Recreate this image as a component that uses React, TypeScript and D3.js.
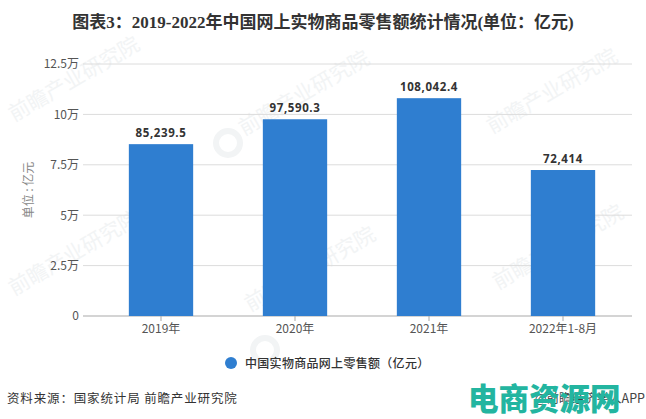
import React, { useRef, useEffect } from 'react';
import * as d3 from 'd3';

const categories = ['2019年', '2020年', '2021年', '2022年1-8月'];
const salesValues = [85239.5, 97590.3, 108042.4, 72414];
const valueLabels = ['85,239.5', '97,590.3', '108,042.4', '72,414'];
const yTicks = [0, 25000, 50000, 75000, 100000, 125000];
const yTickLabels = ['0', '2.5万', '5万', '7.5万', '10万', '12.5万'];
const watermarkSpots = [
  [14, 122], [244, 136], [492, 134],
  [14, 296], [250, 312], [498, 290],
];
const logoSpots = [[228, 143], [265, 350]];

const SANS = '"Noto Sans CJK SC", "Noto Sans", sans-serif';

const App = () => {
  const chartRef = useRef(null);

  useEffect(() => {
    const width = 646;
    const height = 419;
    const margin = { top: 64, right: 16, bottom: 103, left: 94 };

    d3.select(chartRef.current).select('svg').remove();

    const svg = d3.select(chartRef.current)
      .append('svg')
      .attr('width', width)
      .attr('height', height)
      .style('position', 'absolute')
      .style('left', 0)
      .style('top', 0)
      .style('background', '#fff');

    // page watermark sits under the plot
    const marks = svg.append('g');
    watermarkSpots.forEach(([wx, wy]) => {
      marks.append('text')
        .attr('transform', `translate(${wx},${wy}) rotate(-30)`)
        .attr('font-family', SANS)
        .attr('font-size', 21)
        .attr('fill', '#f2f4f5')
        .text('前瞻产业研究院');
    });
    logoSpots.forEach(([lx, ly]) => {
      marks.append('circle')
        .attr('cx', lx)
        .attr('cy', ly)
        .attr('r', 12)
        .attr('fill', 'none')
        .attr('stroke', '#f2f4f5')
        .attr('stroke-width', 6);
    });

    const x = d3.scaleBand()
      .domain(categories)
      .range([margin.left, width - margin.right])
      .paddingInner(0.52)
      .paddingOuter(0.26);

    const y = d3.scaleLinear()
      .domain([0, 125000])
      .range([height - margin.bottom, margin.top]);

    svg.append('text')
      .attr('x', 323)
      .attr('y', 28)
      .attr('text-anchor', 'middle')
      .attr('font-family', '"Liberation Serif", "Noto Sans CJK SC", serif')
      .attr('font-weight', 'bold')
      .attr('font-size', 17)
      .attr('fill', '#333')
      .text('图表3：2019-2022年中国网上实物商品零售额统计情况(单位：亿元)');

    const yAxis = svg.append('g')
      .attr('transform', `translate(${margin.left},0)`)
      .call(d3.axisLeft(y)
        .tickValues(yTicks)
        .tickSize(0)
        .tickPadding(15)
        .tickFormat((d, i) => yTickLabels[i]));
    yAxis.select('.domain').remove();
    yAxis.selectAll('text')
      .attr('font-family', SANS)
      .attr('font-size', 12)
      .attr('fill', '#555');

    svg.append('g')
      .selectAll('line')
      .data(yTicks.slice(1))
      .enter()
      .append('line')
      .attr('x1', 83)
      .attr('x2', 632)
      .attr('y1', d => y(d))
      .attr('y2', d => y(d))
      .attr('stroke', '#dcdcdc');

    const xAxis = svg.append('g')
      .attr('transform', `translate(0,${height - margin.bottom})`)
      .call(d3.axisBottom(x).tickSize(5).tickPadding(3).tickSizeOuter(0));
    xAxis.select('.domain').remove();
    xAxis.selectAll('line').attr('stroke', '#a9a9a9');
    xAxis.selectAll('text')
      .attr('font-family', SANS)
      .attr('font-size', 12)
      .attr('fill', '#555');

    svg.append('line')
      .attr('x1', 83)
      .attr('x2', 632)
      .attr('y1', y(0))
      .attr('y2', y(0))
      .attr('stroke', '#a9a9a9');

    svg.selectAll('.bar')
      .data(salesValues)
      .enter()
      .append('rect')
      .attr('class', 'bar')
      .attr('x', (d, i) => x(categories[i]))
      .attr('y', d => y(d))
      .attr('width', x.bandwidth())
      .attr('height', d => y(0) - y(d))
      .attr('fill', '#2f7ed0');

    svg.selectAll('.value')
      .data(salesValues)
      .enter()
      .append('text')
      .attr('class', 'value')
      .attr('x', (d, i) => x(categories[i]) + x.bandwidth() / 2)
      .attr('y', d => y(d) - 7)
      .attr('text-anchor', 'middle')
      .attr('font-family', '"Open Sans", sans-serif')
      .attr('font-weight', 'bold')
      .attr('font-size', 11.5)
      .attr('letter-spacing', 0.6)
      .attr('fill', '#333')
      .text((d, i) => valueLabels[i]);

    svg.append('text')
      .attr('transform', 'translate(33,190) rotate(-90)')
      .attr('text-anchor', 'middle')
      .attr('font-family', SANS)
      .attr('font-size', 12)
      .attr('fill', '#888')
      .text('单位 : 亿元');

    svg.append('circle')
      .attr('cx', 231)
      .attr('cy', 363)
      .attr('r', 6)
      .attr('fill', '#2f7ed0');

    svg.append('text')
      .attr('x', 245)
      .attr('y', 368)
      .attr('font-family', SANS)
      .attr('font-weight', 500)
      .attr('font-size', 12)
      .attr('letter-spacing', 0.3)
      .attr('fill', '#333')
      .text('中国实物商品网上零售额（亿元）');

    svg.append('text')
      .attr('x', 7)
      .attr('y', 403)
      .attr('font-family', SANS)
      .attr('font-size', 12.5)
      .attr('letter-spacing', 0.85)
      .attr('fill', '#333')
      .text('资料来源：国家统计局 前瞻产业研究院');

    svg.append('text')
      .attr('x', 645)
      .attr('y', 403)
      .attr('text-anchor', 'end')
      .attr('font-family', SANS)
      .attr('font-size', 12.5)
      .attr('fill', '#444')
      .text('@前瞻经济学人APP');

    svg.append('text')
      .attr('x', 468)
      .attr('y', 410)
      .attr('font-family', SANS)
      .attr('font-weight', 900)
      .attr('font-size', 30.5)
      .attr('fill', '#23b5a0')
      .text('电商资源网');
  }, []);

  return (
    <div ref={chartRef} />
  );
};

export default App;
